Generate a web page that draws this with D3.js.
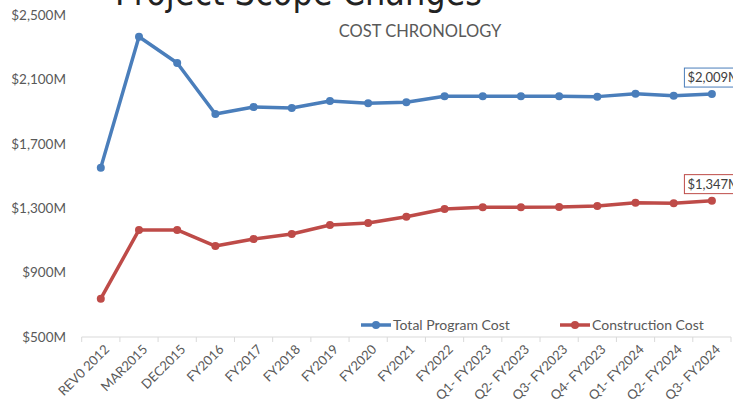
<!DOCTYPE html>
<html><head><meta charset="utf-8">
<script src="https://cdn.jsdelivr.net/npm/d3@7"></script>
<style>body{margin:0;background:#fff}svg{display:block}</style>
</head><body>
<svg id="c" width="733" height="402"></svg>
<script>
const categories = ["REV0 2012","MAR2015","DEC2015","FY2016","FY2017","FY2018","FY2019","FY2020","FY2021","FY2022","Q1- FY2023","Q2- FY2023","Q3- FY2023","Q4- FY2023","Q1- FY2024","Q2- FY2024","Q3- FY2024"];
const totalProgramCost = [1552,2365,2202,1885,1929,1922,1966,1952,1958,1995,1995,1995,1995,1993,2011,1999,2009];
const constructionCost = [738,1165,1165,1065,1109,1140,1196,1208,1247,1295,1306,1306,1307,1314,1334,1330,1347];
const yTicks = [500,900,1300,1700,2100,2500];
const seriesNames = ["Total Program Cost","Construction Cost"];
const seriesColors = ["#4a7ebb","#be4b48"];
const lastLabels = [2009,1347];

const svg = d3.select("#c");
const font = "Lato, 'Open Sans', sans-serif";
const x = d3.scaleBand().domain(categories).range([81.7, 731]).paddingInner(0).paddingOuter(0);
const y = d3.scaleLinear().domain([500,2500]).range([337,15]);
const cx = c => x(c) + x.bandwidth()/2;
const fmt = v => "$" + d3.format(",")(v) + "M";

// cut-off page title
svg.append("text").attr("x",115).attr("y",5)
  .attr("font-family","'DejaVu Sans', sans-serif").attr("font-size",38)
  .attr("fill","#222").attr("textLength",367).attr("lengthAdjust","spacingAndGlyphs")
  .text("Project Scope Changes");

// chart title
svg.append("text").attr("x",420).attr("y",37).attr("text-anchor","middle")
  .attr("font-family",font).attr("font-size",16.5).attr("fill","#595959")
  .text("COST CHRONOLOGY");

// y labels
svg.append("g").selectAll("text").data(yTicks).join("text")
  .attr("x",66).attr("y",d=>y(d)).attr("dy","0.35em").attr("text-anchor","end")
  .attr("font-family",font).attr("font-size",13.5).attr("fill","#595959")
  .text(d=>fmt(d));

// x axis line and ticks
const edges = categories.map(c=>x(c)).concat([x.range()[1]]);
svg.append("line").attr("x1",x.range()[0]).attr("x2",x.range()[1]).attr("y1",y(500)).attr("y2",y(500))
  .attr("stroke","#d9d9d9").attr("stroke-width",1);
svg.append("g").selectAll("line").data(edges).join("line")
  .attr("x1",d=>d).attr("x2",d=>d).attr("y1",y(500)).attr("y2",y(500)+5)
  .attr("stroke","#d9d9d9").attr("stroke-width",1);

// x labels
svg.append("g").selectAll("text").data(categories).join("text")
  .attr("transform",d=>`translate(${cx(d)+6},${y(500)+10}) rotate(-45)`)
  .attr("text-anchor","end").attr("dy","0.35em")
  .attr("font-family",font).attr("font-size",13).attr("fill","#595959")
  .text(d=>d);

// series
[totalProgramCost, constructionCost].forEach((vals,i)=>{
  const pts = categories.map((c,j)=>[cx(c), y(vals[j])]);
  svg.append("path").attr("d",d3.line()(pts)).attr("fill","none")
    .attr("stroke",seriesColors[i]).attr("stroke-width",3.5).attr("stroke-linejoin","round");
  svg.append("g").selectAll("circle").data(pts).join("circle")
    .attr("cx",d=>d[0]).attr("cy",d=>d[1]).attr("r",4).attr("fill",seriesColors[i]);
  // last data label
  const last = pts[pts.length-1];
  const g = svg.append("g");
  const lx = last[0] - 27.5, ly = last[1] - 26;
  g.append("rect").attr("x",lx).attr("y",ly).attr("width",58).attr("height",19)
    .attr("fill","#fff").attr("stroke",seriesColors[i]).attr("stroke-width",1);
  g.append("text").attr("x",lx+3).attr("y",ly+9.5).attr("dy","0.35em")
    .attr("font-family",font).attr("font-size",13).attr("fill","#404040")
    .text(fmt(lastLabels[i]));
});

// legend
const leg = [{x:361},{x:560}];
seriesNames.forEach((n,i)=>{
  const g = svg.append("g").attr("transform",`translate(${leg[i].x},325)`);
  g.append("line").attr("x1",0).attr("x2",30).attr("stroke",seriesColors[i]).attr("stroke-width",3.5);
  g.append("circle").attr("cx",15).attr("r",4).attr("fill",seriesColors[i]);
  g.append("text").attr("x",32).attr("dy","0.35em").attr("font-family",font).attr("font-size",14)
    .attr("fill","#595959").text(n);
});
</script>
</body></html>
